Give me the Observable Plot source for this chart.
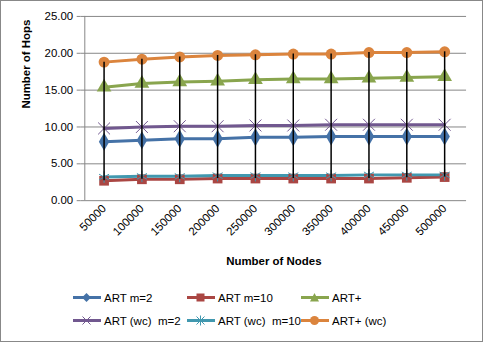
<!DOCTYPE html>
<html><head><meta charset="utf-8">
<script src="https://cdn.jsdelivr.net/npm/d3@7"></script>
<script src="https://cdn.jsdelivr.net/npm/@observablehq/plot@0.6"></script>
<style>
body{margin:0;font-family:"Liberation Sans",Arial,sans-serif;}
#frame{position:relative;width:481px;height:340px;border:1px solid #888;background:#fff;overflow:hidden;}
#legend{position:absolute;left:72px;top:288px;display:grid;grid-template-columns:114px 114px 140px;row-gap:6px;font-size:11.5px;color:#000;}
.item{display:flex;align-items:center;height:17px;white-space:nowrap;}
.item svg{margin-right:3px;}
</style></head>
<body><div id="frame"><div id="chart"></div><div id="legend"></div></div>
<script>
const nodes = ["50000","100000","150000","200000","250000","300000","350000","400000","450000","500000"];
const seriesNames = ["ART m=2","ART m=10","ART+","ART (wc)  m=2","ART (wc)  m=10","ART+ (wc)"];
const artM2    = [8.0, 8.2, 8.4, 8.4, 8.6, 8.6, 8.7, 8.7, 8.7, 8.7];
const artM10   = [2.7, 2.9, 2.9, 3.0, 3.0, 3.0, 3.0, 3.0, 3.1, 3.2];
const artPlus  = [15.4, 15.9, 16.1, 16.2, 16.4, 16.5, 16.5, 16.6, 16.7, 16.8];
const artWcM2  = [9.8, 10.0, 10.1, 10.1, 10.2, 10.2, 10.3, 10.3, 10.3, 10.3];
const artWcM10 = [3.2, 3.3, 3.3, 3.4, 3.4, 3.4, 3.4, 3.5, 3.5, 3.5];
const artPlusWc= [18.8, 19.2, 19.5, 19.7, 19.8, 19.9, 19.9, 20.1, 20.1, 20.2];
const yTicks = [0, 5, 10, 15, 20, 25];

const colors = ["#4572A7","#AA4643","#89A54E","#71588F","#4198AF","#DB843D"];
const symbols = ["diamond","square","triangle","times","asterisk","circle"];
const allValues = [artM2, artM10, artPlus, artWcM2, artWcM10, artPlusWc];

const rows = [];
allValues.forEach((vals, s) => vals.forEach((v, i) => rows.push({series: seriesNames[s], s, node: nodes[i], value: v})));
const hiLo = nodes.map((n, i) => {
  const vs = allValues.map(a => a[i]);
  return {node: n, lo: Math.min(...vs), hi: Math.max(...vs)};
});

const marks = [
  Plot.ruleY(yTicks.slice(1), {stroke: "#868686", strokeWidth: 1}),
  Plot.ruleY([0], {stroke: "#868686"}),
  Plot.axisY({ticks: yTicks, tickFormat: d => d.toFixed(2), tickSize: 4, tickPadding: 4, stroke: "#868686", fontSize: 11.5, label: null}),
  Plot.axisX({tickSize: 0, tickPadding: 6, tickRotate: -45, fontSize: 11.5, label: null}),
  Plot.text(["Number of Hops"], {frameAnchor: "left", dx: -55, rotate: -90, fontWeight: "bold", fontSize: 11.5}),
  Plot.text(["Number of Nodes"], {frameAnchor: "bottom", dy: 65, fontWeight: "bold", fontSize: 11.5}),
];
allValues.forEach((vals, s) => {
  const d = rows.filter(r => r.s === s);
  marks.push(Plot.line(d, {x: "node", y: "value", stroke: colors[s], strokeWidth: 3}));
});
allValues.forEach((vals, s) => {
  const d = rows.filter(r => r.s === s);
  const filled = !(symbols[s] === "times" || symbols[s] === "asterisk");
  marks.push(Plot.dot(d, {x: "node", y: "value", symbol: () => symbols[s], r: filled ? 5.5 : 5.5,
    fill: filled ? colors[s] : "none", stroke: colors[s], strokeWidth: filled ? 0 : 1}));
});
marks.push(Plot.ruleX(hiLo, {x: "node", y1: "lo", y2: "hi", stroke: "#000", strokeWidth: 1.5}));
// left axis line
marks.push(Plot.ruleX([nodes[0]], {y1: 0, y2: 25, stroke: "#868686", dx: -19.35}));

const chart = Plot.plot({
  width: 483, height: 280,
  marginLeft: 80, marginRight: 16, marginTop: 15, marginBottom: 80,
  style: {fontFamily: "Liberation Sans, Arial, sans-serif", fontSize: "11.5px", color: "#000", background: "transparent"},
  x: {type: "point", domain: nodes, padding: 0.5},
  y: {domain: [0, 25]},
  symbol: {type: "identity"},
  marks
});
document.getElementById("chart").appendChild(chart);

const legend = document.getElementById("legend");
const order = [0,1,2,3,4,5];
const symPath = {
  diamond: '<path d="M13.5 4 L18 8.5 L13.5 13 L9 8.5Z" fill="C"/>',
  square: '<rect x="9.5" y="4.5" width="8" height="8" fill="C"/>',
  triangle: '<path d="M13.5 4 L18 12.5 L9 12.5Z" fill="C"/>',
  times: '<path d="M9.5 4.5 L17.5 12.5 M17.5 4.5 L9.5 12.5" stroke="C" stroke-width="1" fill="none"/>',
  asterisk: '<path d="M9.5 4.5 L17.5 12.5 M17.5 4.5 L9.5 12.5 M13.5 3.5 L13.5 13.5" stroke="C" stroke-width="1" fill="none"/>',
  circle: '<circle cx="13.5" cy="8.5" r="4.5" fill="C"/>'
};
order.forEach(s => {
  const div = document.createElement("div");
  div.className = "item";
  div.innerHTML = `<svg width="28" height="17"><line x1="0" x2="28" y1="8.5" y2="8.5" stroke="${colors[s]}" stroke-width="3"/>${symPath[symbols[s]].replace(/C/g, colors[s])}</svg><span>${seriesNames[s].replace(/  /g," &nbsp;")}</span>`;
  legend.appendChild(div);
});
</script></body></html>
